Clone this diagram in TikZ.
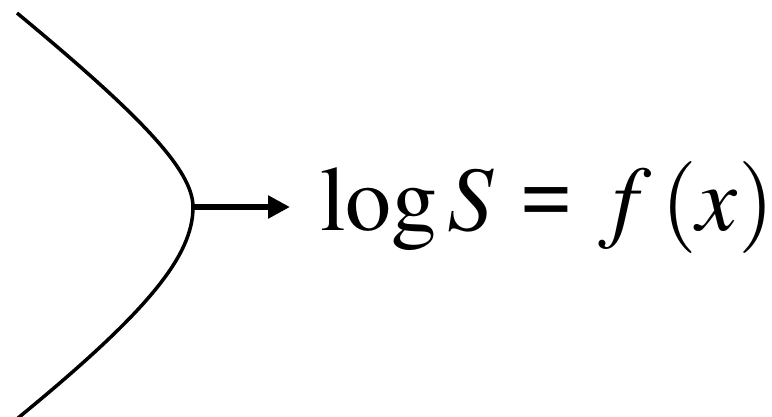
\documentclass[tikz,border=0pt]{standalone}
\usepackage{mathptmx}
\usepackage{fontspec}
\setmainfont{Liberation Serif}
\usetikzlibrary{arrows.meta,positioning}

\begin{document}
\begin{tikzpicture}[
  x=1pt, y=-1pt,
  branch/.style={draw=black, line width=3.5pt},
  mapsto/.style={line width=6pt, -{Triangle[length=22pt,width=22pt]}},
  eqlabel/.style={font=\fontsize{92}{100}\selectfont, inner sep=0pt, anchor=base west},
]
\useasboundingbox (0,0) rectangle (772,416);

% curve with its turning point
\coordinate (top) at (17,13);
\coordinate (tip) at (193,207);
\coordinate (bottom) at (18,418);
\draw[branch] (top) .. controls (140,115) and (193,170) .. (tip)
  .. controls (193,255) and (150,310) .. (bottom);

% equation
\node[eqlabel] (eq) at (320,230)
  {$\log S\mskip1mu \mathrel{\hbox{\bfseries=}}\mskip1mu f\mskip2mu(x)$};

\draw[mapsto] (tip) -- (tip -| eq.west) [shorten >=30pt];

\end{tikzpicture}
\end{document}
